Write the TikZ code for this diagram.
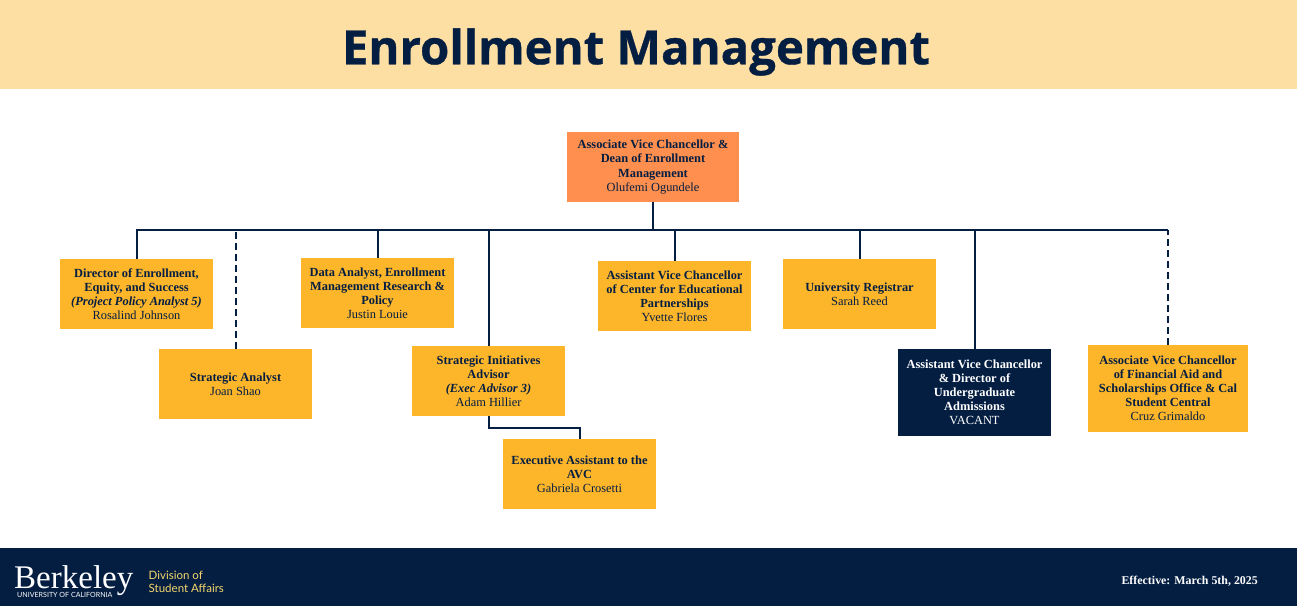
\documentclass[tikz,border=0pt]{standalone}
\usepackage{fontspec}
\setmainfont{Liberation Serif}
\newfontfamily\titlefont[BoldFeatures={FakeBold=0.7}]{Open Sans}
\newfontfamily\logofont{Lato}
\definecolor{navy}{HTML}{041E42}
\definecolor{gold}{HTML}{FDB52A}
\definecolor{peach}{HTML}{FF8F4E}
\definecolor{banner}{HTML}{FDDFA3}
\definecolor{paleyellow}{HTML}{F5D76E}
\tikzset{
  orgbox/.style={fill=gold, text=navy, minimum width=153pt, minimum height=70pt, inner sep=0pt,
    align=center, font=\fontsize{12.4}{14.1}\selectfont},
  orgline/.style={draw=navy, line width=2pt},
}
\begin{document}
\begin{tikzpicture}[x=1pt, y=-1pt]
      \useasboundingbox (0,0) rectangle (1297,606);
      \fill[banner] (0,0) rectangle (1297,89);
      \fill[navy] (0,548) rectangle (1297,606);
      \node[text=navy, font=\titlefont\bfseries\fontsize{47.3}{50}\selectfont, inner sep=0pt] (title) at (636,52) {Enrollment Management};
      % boxes
      \node[orgbox, fill=peach, minimum width=172pt] (avc) at (653,167)
        {\textbf{Associate Vice Chancellor \&}\\\textbf{Dean of Enrollment}\\\textbf{Management}\\Olufemi Ogundele};
      \node[orgbox] (director) at (136.5,294)
        {\textbf{Director of Enrollment,}\\\textbf{Equity, and Success}\\\textbf{\textit{(Project Policy Analyst 5)}}\\Rosalind Johnson};
      \node[orgbox] (analyst) at (235.5,384)
        {\textbf{Strategic Analyst}\\Joan Shao};
      \node[orgbox] (data) at (377.5,293)
        {\textbf{Data Analyst, Enrollment}\\\textbf{Management Research \&}\\\textbf{Policy}\\Justin Louie};
      \node[orgbox] (initiatives) at (488.5,381)
        {\textbf{Strategic Initiatives}\\\textbf{Advisor}\\\textbf{\textit{(Exec Advisor 3)}}\\Adam Hillier};
      \node[orgbox] (exec) at (579.5,474)
        {\textbf{Executive Assistant to the}\\\textbf{AVC}\\Gabriela Crosetti};
      \node[orgbox] (partners) at (674.5,296)
        {\textbf{Assistant Vice Chancellor}\\\textbf{of Center for Educational}\\\textbf{Partnerships}\\Yvette Flores};
      \node[orgbox] (registrar) at (859.5,294)
        {\textbf{University Registrar}\\Sarah Reed};
      \node[orgbox, fill=navy, text=white, minimum height=87pt] (admissions) at (974.5,392.5)
        {\textbf{Assistant Vice Chancellor}\\\textbf{\& Director of}\\\textbf{Undergraduate}\\\textbf{Admissions}\\VACANT};
      \node[orgbox, minimum width=160pt, minimum height=87pt] (finaid) at (1168,388.5)
        {\textbf{Associate Vice Chancellor}\\\textbf{of Financial Aid and}\\\textbf{Scholarships Office \& Cal}\\\textbf{Student Central}\\Cruz Grimaldo};
      % connectors
      \coordinate (trunk) at (653,230);
      \coordinate (kink) at (534,428);
      \begin{scope}[orgline]
        \draw (avc) -- (trunk);
        \draw (director) |- (trunk);
        \draw (data) -- (data |- trunk);
        \draw (initiatives) -- (initiatives |- trunk);
        \draw (partners) -- (partners |- trunk);
        \draw (registrar) -- (registrar |- trunk);
        \draw (admissions) -- (admissions |- trunk);
        \draw (trunk) -- (finaid |- trunk);
        \draw (initiatives) |- (kink) -| (exec);
        \draw[dashed, dash pattern=on 7pt off 4pt] (analyst) -- (analyst |- trunk);
        \draw[dashed, dash pattern=on 7pt off 4pt] (finaid) -- (finaid |- trunk);
      \end{scope}
      % footer
      \node[text=white, font=\fontsize{33}{33}\selectfont, inner sep=0pt, anchor=base west] (logo) at (14,588) {Berkeley};
      \node[text=white, font=\logofont\fontsize{7.1}{8}\selectfont, inner sep=0pt, anchor=base west] (campus) at (17,597) {UNIVERSITY OF CALIFORNIA};
      \node[text=paleyellow, font=\logofont\fontsize{11.5}{13.5}\selectfont, inner sep=0pt, align=left, anchor=west] (division) at (148.5,582) {Division of\\Student Affairs};
      \node[text=white, font=\bfseries\fontsize{11.9}{14}\selectfont, inner sep=0pt, anchor=east] (effective) at (1258,581) {Effective: March 5th, 2025};
\end{tikzpicture}
\end{document}
